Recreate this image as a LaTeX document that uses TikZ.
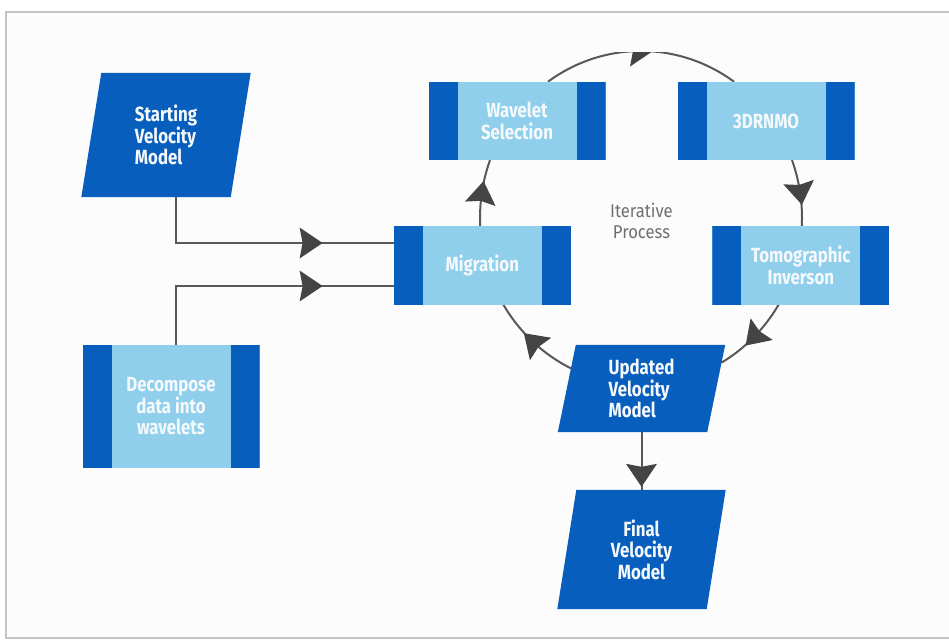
\documentclass[tikz,border=0pt]{standalone}
\usepackage{fontspec}
\setmainfont{Fira Sans}[FakeStretch=0.82]
\newfontfamily\procfont{Fira Sans}[FakeStretch=0.9]
\usetikzlibrary{decorations.markings,calc}
\pgfdeclarelayer{bg}
\pgfdeclarelayer{conn}
\pgfdeclarelayer{shp}
\pgfsetlayers{bg,conn,shp,main}
\definecolor{dblue}{RGB}{8,94,189}
\definecolor{lblue}{RGB}{143,207,236}
\definecolor{lineg}{RGB}{88,88,88}
\definecolor{arrg}{RGB}{68,68,68}
\definecolor{frameg}{RGB}{196,196,196}
\definecolor{paper}{RGB}{252,252,252}
\definecolor{txtw}{RGB}{246,249,252}
\definecolor{procg}{RGB}{112,112,112}
\newcommand{\flowhead}{\fill[arrg] (12pt,0pt) -- (-11pt,15.5pt) -- (-8pt,0pt) -- (-11pt,-15.5pt) -- cycle;}
\newcommand{\slantbox}[2]{%
  \begin{pgfonlayer}{shp}
    \fill[dblue] ([xshift=-#2]#1.south west) -- ([xshift=-#2]#1.south east)
      -- ([xshift=#2]#1.north east) -- ([xshift=#2]#1.north west) -- cycle;
  \end{pgfonlayer}}
\tikzset{
  boxfont/.style={font=\bfseries\fontsize{20.5}{21.5}\selectfont},
  tribox/.style={rectangle, fill=lblue, minimum width=177pt, minimum height=78.5pt,
    inner sep=0pt, text=txtw, boxfont, align=center,
    path picture={
      \fill[dblue] (path picture bounding box.south west) rectangle ([xshift=29pt]path picture bounding box.north west);
      \fill[dblue] (path picture bounding box.south east) rectangle ([xshift=-29pt]path picture bounding box.north east);}},
  pgram/.style={rectangle, minimum width=149pt, inner sep=0pt, text=txtw, boxfont, align=left},
  conn/.style={draw=lineg, line width=2pt},
  midhead/.style={postaction={decorate, decoration={markings, mark=at position #1 with {\flowhead}}}},
}
\begin{document}
\begin{tikzpicture}[x=1pt,y=-1pt]
\useasboundingbox (0,0) rectangle (949,641);
\begin{pgfonlayer}{bg}
  \fill[white] (0,0) rectangle (949,641);
  \draw[draw=frameg, line width=2pt, fill=paper] (6,12) rectangle (980,638);
\end{pgfonlayer}

% nodes
\node[pgram, minimum height=124pt] (sv) at (166,135) {Starting\\Velocity\\Model};
\slantbox{sv}{10pt}
\node[tribox, minimum height=123pt] (dec) at (171,406.5) {Decompose\\data into\\wavelets};
\node[tribox] (mig) at (482.3,265.5) {Migration};
\node[tribox] (ws) at (517,121) {Wavelet\\Selection};
\node[tribox] (rn) at (766,121) {3DRNMO};
\node[tribox] (tomo) at (800.8,265.5) {Tomographic\\Inverson};
\node[pgram, minimum height=87pt] (upd) at (641.5,388.5) {Updated\\Velocity\\Model};
\slantbox{upd}{9pt}
\node[pgram, minimum height=119pt, align=center] (fin) at (641.5,549.5) {Final\\Velocity\\Model};
\slantbox{fin}{9.5pt}
\node[font=\procfont\fontsize{18.5}{21}\selectfont, text=procg, align=center] (ip) at (641.5,221) {Iterative\\Process};

\coordinate (ic) at (641,218);

\begin{pgfonlayer}{conn}
  % inputs to migration
  \draw[conn, midhead=-83pt] ([xshift=10pt]sv.south) |- ([yshift=22.5pt]mig.west);
  \draw[conn, midhead=-83pt] ([xshift=5pt]dec.north) |- ([yshift=-20.5pt]mig.west);
  % updated -> final
  \draw[conn, midhead=-15pt] (upd.south) -- (fin.north);
  % iterative loop
  \begin{scope}
    \clip (0,52.8) rectangle (949,641);
    \coordinate (m1) at ($(ic)+(177:161 and 167)$);
    \coordinate (w1) at ($(ic)+(234.7:161 and 167)$);
    \coordinate (r1) at ($(ic)+(339.7:161 and 167)$);
    \coordinate (t1) at ($(ic)+(31:161 and 167)$);
    \coordinate (u1) at ($(ic)+(115.5:161 and 167)$);
    \draw[conn, midhead=0.5] (m1) arc[start angle=177, end angle=200.3, x radius=161, y radius=167];
    \draw[conn, midhead=0.5] (w1) arc[start angle=234.7, end angle=305.3, x radius=161, y radius=167];
    \draw[conn, midhead=0.5] (r1) arc[start angle=339.7, end angle=363, x radius=161, y radius=167];
    \draw[conn, midhead=0.5] (t1) arc[start angle=31, end angle=60, x radius=161, y radius=167];
    \draw[conn, midhead=0.5] (u1) arc[start angle=115.5, end angle=149, x radius=161, y radius=167];
  \end{scope}
\end{pgfonlayer}
\end{tikzpicture}
\end{document}
